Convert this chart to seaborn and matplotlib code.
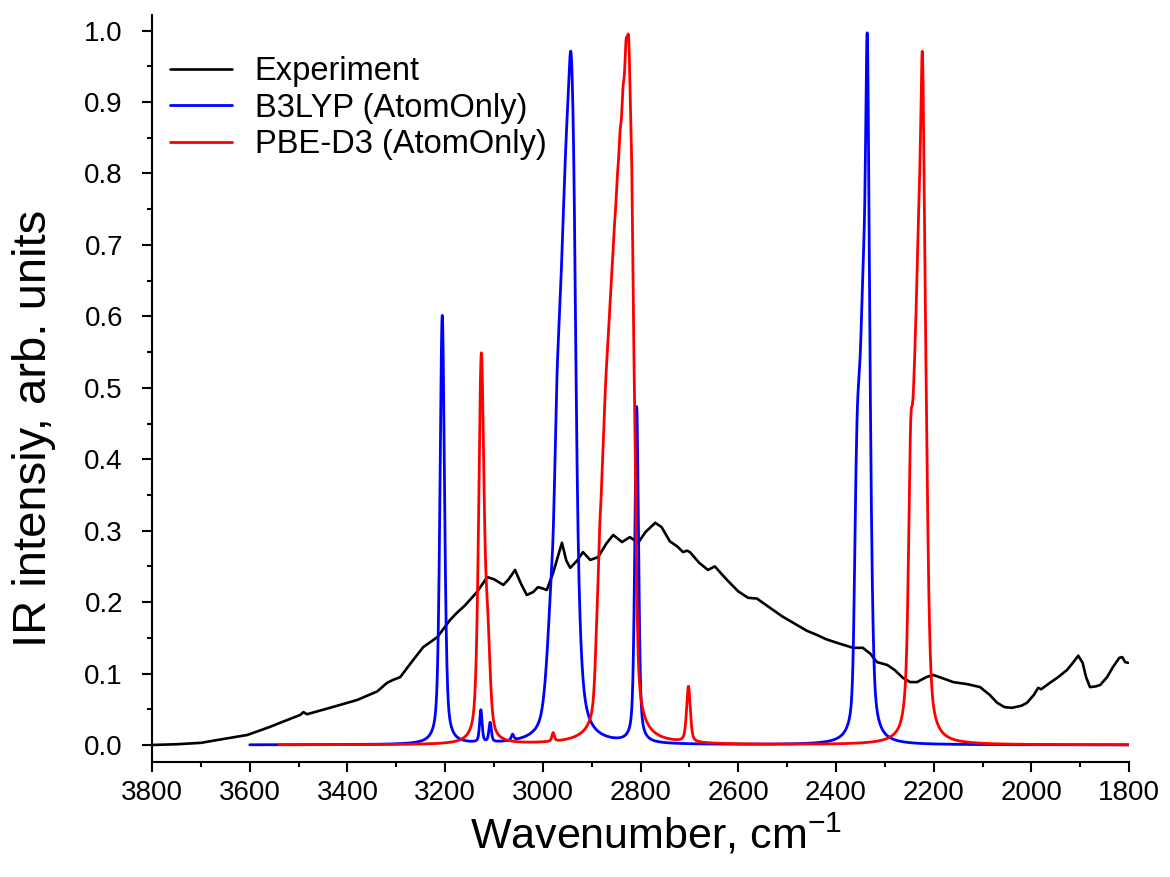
"""IR spectrum: experiment vs. B3LYP / PBE-D3 (AtomOnly) computed spectra."""

import numpy as np
import pandas as pd
import matplotlib
matplotlib.use("Agg")
import matplotlib.pyplot as plt
import seaborn as sns

exp_wn = [3800, 3750, 3700, 3640, 3605, 3560, 3538, 3497, 3490, 3483, 3436, 3380, 3339, 3319,
          3307, 3292, 3270, 3245, 3216, 3190, 3176, 3160, 3135, 3114, 3100, 3081, 3070, 3057,
          3045, 3033, 3020, 3010, 3000, 2992, 2979, 2970, 2961, 2952, 2944, 2930, 2918, 2903,
          2887, 2870, 2856, 2838, 2822, 2805, 2790, 2770, 2757, 2740, 2725, 2713, 2705, 2699,
          2680, 2662, 2648, 2635, 2623, 2600, 2580, 2562, 2535, 2510, 2480, 2460, 2439, 2420,
          2398, 2365, 2345, 2330, 2316, 2295, 2280, 2263, 2248, 2234, 2215, 2201, 2180, 2160,
          2130, 2105, 2085, 2070, 2055, 2040, 2020, 2009, 1995, 1986, 1980, 1976, 1962, 1945,
          1927, 1915, 1904, 1895, 1888, 1880, 1868, 1859, 1845, 1833, 1820, 1814, 1808, 1802]
exp_int = [0.000, 0.001, 0.003, 0.010, 0.014, 0.025, 0.031, 0.042, 0.046, 0.043, 0.052, 0.063,
           0.075, 0.087, 0.091, 0.095, 0.115, 0.137, 0.151, 0.175, 0.185, 0.195, 0.214, 0.235,
           0.232, 0.224, 0.232, 0.245, 0.226, 0.210, 0.214, 0.221, 0.219, 0.217, 0.241, 0.262,
           0.283, 0.258, 0.248, 0.258, 0.270, 0.259, 0.263, 0.282, 0.294, 0.284, 0.291, 0.283,
           0.298, 0.311, 0.305, 0.285, 0.278, 0.270, 0.272, 0.270, 0.255, 0.245, 0.250, 0.240,
           0.231, 0.215, 0.206, 0.205, 0.192, 0.180, 0.168, 0.160, 0.154, 0.148, 0.143, 0.136,
           0.136, 0.128, 0.116, 0.112, 0.105, 0.094, 0.088, 0.088, 0.095, 0.098, 0.093, 0.088,
           0.085, 0.081, 0.070, 0.059, 0.053, 0.052, 0.055, 0.059, 0.070, 0.080, 0.078, 0.080,
           0.087, 0.095, 0.105, 0.115, 0.125, 0.115, 0.095, 0.081, 0.082, 0.084, 0.095, 0.109,
           0.122, 0.123, 0.116, 0.115]

# computed stick spectra: band position (cm-1), peak intensity, half width (cm-1)
b3lyp_pos = [3206, 3127, 3108, 3062,
             2930, 2936, 2942, 2942, 2948, 2954, 2960, 2966, 2972, 2972, 2984, 2984, 2990,
             2808,
             2328, 2332, 2336, 2336, 2340, 2344, 2344, 2348, 2348, 2352, 2352, 2356, 2360]
b3lyp_int = [0.600, 0.045, 0.027, 0.008,
             0.073, 0.187, 0.049, 0.568, 0.153, 0.311, 0.166, 0.173, 0.058, 0.158, 0.020, 0.056, 0.032,
             0.470,
             0.019, 0.227, 0.360, 0.305, 0.080, 0.074, 0.204, 0.029, 0.128, 0.050, 0.136, 0.169, 0.153]
b3lyp_hw = [5.5, 3, 3, 3,
            9, 5, 5, 9, 9, 9, 9, 9, 5, 9, 5, 9, 9,
            4.5,
            4, 6, 4, 6, 6, 4, 6, 4, 6, 4, 6, 4, 4]

pbe_pos = [3126, 3113, 2979,
           2812, 2818, 2824, 2824, 2830, 2830, 2836, 2836, 2842, 2842, 2848, 2848, 2854, 2854,
           2860, 2860, 2866, 2866, 2872, 2872, 2878, 2878, 2884, 2884, 2890,
           2702,
           2215, 2215, 2219, 2223, 2223, 2227, 2231, 2231, 2235, 2239, 2243, 2247, 2251, 2255]
pbe_int = [0.535, 0.120, 0.012,
           0.213, 0.325, 0.205, 0.390, 0.171, 0.223, 0.167, 0.147, 0.114, 0.260, 0.088, 0.169,
           0.052, 0.220, 0.033, 0.174, 0.019, 0.175, 0.032, 0.159, 0.045, 0.085, 0.083, 0.040, 0.046,
           0.078,
           0.055, 0.049, 0.234, 0.280, 0.236, 0.125, 0.052, 0.232, 0.082, 0.200, 0.094, 0.191,
           0.063, 0.016]
pbe_hw = [6.5, 6, 3,
          4, 4, 4, 8, 4, 8, 4, 8, 4, 8, 4, 8, 4, 8, 4, 8, 4, 8, 4, 8, 4, 8, 4, 8, 4,
          4.5,
          4, 7, 7, 4, 7, 7, 4, 7, 7, 7, 7, 4, 4, 7]

b3lyp_range = (3600, 1800)
pbe_range = (3540, 1800)


def broaden(pos, inten, hw, start, stop, step=0.5):
    """Pseudo-Voigt (50/50) broadening of a stick spectrum."""
    x = np.arange(start, stop - step / 2, -step)
    y = np.zeros_like(x, dtype=float)
    for c, h, w in zip(pos, inten, hw):
        r = (x - c) / w
        y += h * (0.5 * np.exp(-np.log(2) * r ** 2) + 0.5 / (1 + r ** 2))
    return pd.DataFrame({'wn': x, 'intensity': y})


def main():
    df_exp = pd.DataFrame({'wn': exp_wn, 'intensity': exp_int})
    df_b3 = broaden(b3lyp_pos, b3lyp_int, b3lyp_hw, *b3lyp_range)
    df_pbe = broaden(pbe_pos, pbe_int, pbe_hw, *pbe_range)

    sns.set_style("ticks")
    plt.rcParams['font.family'] = ['Liberation Sans', 'DejaVu Sans']
    plt.rcParams['mathtext.default'] = 'regular'
    for key in ['text.color', 'axes.labelcolor', 'xtick.color', 'ytick.color']:
        plt.rcParams[key] = 'black'

    fig = plt.figure(figsize=(11.7, 8.77), dpi=100)
    ax = fig.add_axes([0.130, 0.131, 0.835, 0.852])

    sns.lineplot(data=df_exp, x='wn', y='intensity', color='black', lw=1.9,
                 estimator=None, sort=False, label='Experiment', ax=ax)
    sns.lineplot(data=df_b3, x='wn', y='intensity', color='blue', lw=2.0,
                 estimator=None, sort=False, label='B3LYP (AtomOnly)', ax=ax)
    sns.lineplot(data=df_pbe, x='wn', y='intensity', color='red', lw=2.0,
                 estimator=None, sort=False, label='PBE-D3 (AtomOnly)', ax=ax)

    ax.set_xlim(3800, 1800)
    ax.set_ylim(-0.024, 1.022)
    xt = np.arange(3800, 1799, -200)
    ax.set_xticks(xt, labels=[str(v) for v in xt], fontsize=20)
    ax.set_xticks(np.arange(3800, 1799, -100), minor=True)
    yt = np.arange(0, 1.01, 0.1)
    ax.set_yticks(yt, labels=[f'{v:.1f}' for v in yt], fontsize=20)
    ax.set_yticks(np.arange(0, 1.01, 0.05), minor=True)
    ax.tick_params(which='major', length=7, width=1.5, direction='out', color='black')
    ax.tick_params(which='minor', length=3.5, width=1.5, direction='out', color='black')
    ax.tick_params(axis='x', pad=6)
    ax.tick_params(axis='y', pad=14)
    for s in ['top', 'right']:
        ax.spines[s].set_visible(False)
    for s in ['left', 'bottom']:
        ax.spines[s].set_linewidth(1.5)
        ax.spines[s].set_color('black')

    ax.set_xlabel('')
    ax.set_ylabel('')
    fig.text(0.5605, (877 - 849) / 877, 'Wavenumber, cm$^{-1}$', fontsize=31,
             ha='center', va='baseline')
    fig.text(34 / 1170, 1 - 428 / 877, 'IR intensiy, arb. units', fontsize=34,
             rotation=90, ha='center', va='center')

    ax.legend(loc='upper left', bbox_to_anchor=(0.018, 0.945), frameon=False, fontsize=23.5,
              handlelength=1.9, handletextpad=0.7, labelspacing=0.17,
              borderaxespad=0, borderpad=0, labelcolor='black')

    fig.savefig('out.png', dpi=100)


if __name__ == '__main__':
    main()
